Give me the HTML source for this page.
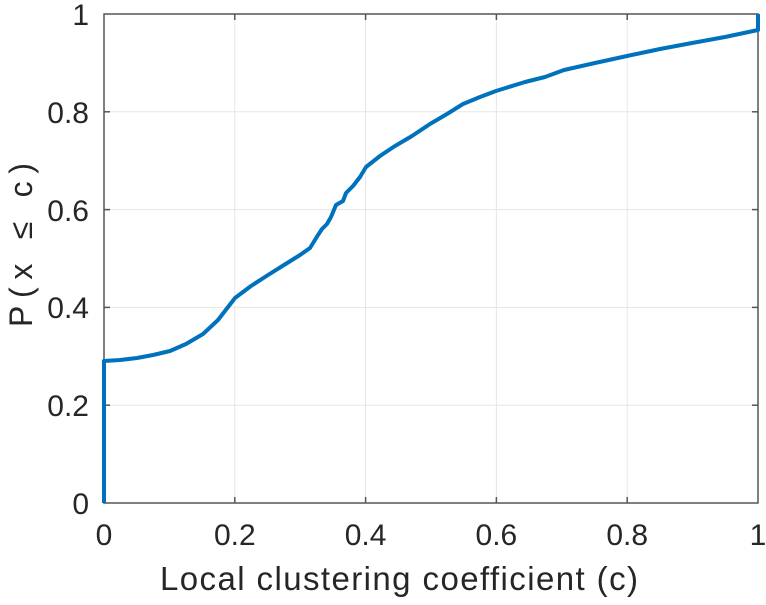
<!DOCTYPE html>
<html><head><style>body{margin:0;background:#fff}</style></head><body>
<svg width="766" height="600" xmlns="http://www.w3.org/2000/svg" font-family="Liberation Sans, sans-serif">
<rect width="766" height="600" fill="#fff"/>
<g stroke="#e6e6e6" stroke-width="1">
<line x1="234.8" y1="14" x2="234.8" y2="503"/><line x1="365.6" y1="14" x2="365.6" y2="503"/><line x1="496.4" y1="14" x2="496.4" y2="503"/><line x1="627.2" y1="14" x2="627.2" y2="503"/>
<line x1="104" y1="405.2" x2="758" y2="405.2"/><line x1="104" y1="307.4" x2="758" y2="307.4"/><line x1="104" y1="209.6" x2="758" y2="209.6"/><line x1="104" y1="111.8" x2="758" y2="111.8"/>
</g>
<rect x="104" y="14" width="654" height="489" fill="none" stroke="#555" stroke-width="1.5"/>
<g stroke="#555" stroke-width="1.5">
<line x1="234.8" y1="503" x2="234.8" y2="497"/><line x1="365.6" y1="503" x2="365.6" y2="497"/><line x1="496.4" y1="503" x2="496.4" y2="497"/><line x1="627.2" y1="503" x2="627.2" y2="497"/>
<line x1="234.8" y1="14" x2="234.8" y2="20"/><line x1="365.6" y1="14" x2="365.6" y2="20"/><line x1="496.4" y1="14" x2="496.4" y2="20"/><line x1="627.2" y1="14" x2="627.2" y2="20"/>
<line x1="104" y1="405.2" x2="110" y2="405.2"/><line x1="104" y1="307.4" x2="110" y2="307.4"/><line x1="104" y1="209.6" x2="110" y2="209.6"/><line x1="104" y1="111.8" x2="110" y2="111.8"/>
<line x1="758" y1="405.2" x2="752" y2="405.2"/><line x1="758" y1="307.4" x2="752" y2="307.4"/><line x1="758" y1="209.6" x2="752" y2="209.6"/><line x1="758" y1="111.8" x2="752" y2="111.8"/>
</g>
<polyline fill="none" stroke="#0072bd" stroke-width="4" stroke-linejoin="round" points="104,503 104,361 120,360 137,358 153,355 170,351 186,344 203,334 218,320 235,298 251,286 268,275 284,265 300,255 310,248 318,235 322,229 327,224 331,217 336,205 343,201 346,193 353,186 360,177 366,167 380,156 395,146 412,136 430,124 447,114 463,104 480,97 496,91 525,82 545,77 564,70 595,63 627,56 660,49 692,43 725,37 758,30 758,14"/>
<g font-size="30" fill="#262626" text-anchor="end">
<text x="89" y="514">0</text><text x="89" y="416">0.2</text><text x="89" y="318">0.4</text><text x="89" y="221">0.6</text><text x="89" y="123">0.8</text><text x="89" y="25">1</text>
</g>
<g font-size="30" fill="#262626" text-anchor="middle">
<text x="104" y="545">0</text><text x="234.8" y="545">0.2</text><text x="365.6" y="545">0.4</text><text x="496.4" y="545">0.6</text><text x="627.2" y="545">0.8</text><text x="758" y="545">1</text>
</g>
<text x="160" y="590" font-size="33" fill="#262626" textLength="478" lengthAdjust="spacing">Local clustering coefficient (c)</text>
<text transform="translate(32,327) rotate(-90)" font-size="32" fill="#262626" textLength="164" lengthAdjust="spacing">P(x ≤ c)</text>
</svg>
</body></html>
